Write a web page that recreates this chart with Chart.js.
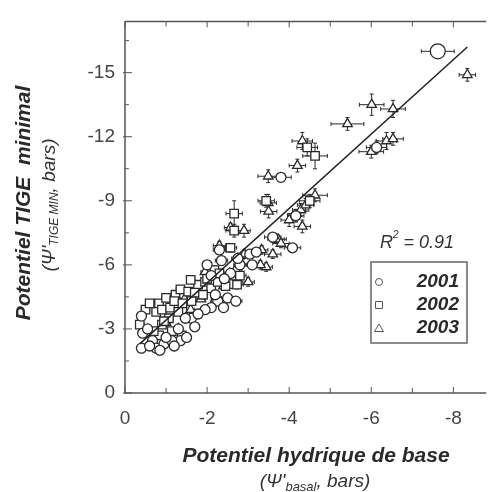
<!DOCTYPE html>
<html>
<head>
<meta charset="utf-8">
<script src="https://cdn.jsdelivr.net/npm/chart.js@4.4.0/dist/chart.umd.min.js"></script>
<style>
  html, body { margin: 0; padding: 0; background: #fff; }
</style>
</head>
<body>
<canvas id="chart-1" width="495" height="492"></canvas>
<script>
// Ticks
const xTicks = [0, -2, -4, -6, -8];
const yTicks = [0, -3, -6, -9, -12, -15];

// 2001 (circles)
const x2001 = [-7.62, -3.8, -0.40, -0.40, -0.67, -0.76, -0.95, -1.35, -1.14, -2.50, -2.26, -1.62, -2.10, -2.57, -2.30, -3.04, -3.20, -2.80, -3.10, -4.08, -1.00, -0.43, -1.30, -1.95, -3.60, -4.16, -6.13, -2.00, -2.42, -1.78,
  -0.55, -0.60, -0.85, -1.20, -1.50, -1.70, -2.20, -2.40, -2.70, -2.10, -2.35, -2.75, -1.47];
const y2001 = [-16.0, -10.1, -2.1, -3.6, -2.45, -2.1, -2.3, -2.45, -2.45, -4.45, -4.3, -3.5, -4.0, -5.6, -6.7, -6.5, -6.6, -6.0, -6.0, -6.8, -2.6, -2.8, -3.0, -3.9, -7.3, -8.3, -11.5, -6.0, -5.35, -3.7,
  -3.0, -2.2, -2.0, -2.2, -2.6, -3.1, -4.6, -4.0, -4.3, -5.5, -6.2, -6.3, -3.5];
const xe2001 = [0.4, 0.25, 0.1, 0.1, 0.1, 0.1, 0.1, 0.1, 0.1, 0.15, 0.1, 0.1, 0.1, 0.15, 0.15, 0.15, 0.15, 0.15, 0.15, 0.2, 0.1, 0.1, 0.1, 0.1, 0.2, 0.2, 0.25, 0.1, 0.15, 0.1,
  0.1, 0.1, 0.1, 0.1, 0.1, 0.1, 0.1, 0.1, 0.15, 0.1, 0.15, 0.15, 0.1];
const ye2001 = [0.2, 0.2, 0.1, 0.1, 0.1, 0.1, 0.1, 0.1, 0.1, 0.2, 0.1, 0.1, 0.1, 0.2, 0.2, 0.2, 0.2, 0.2, 0.2, 0.2, 0.1, 0.1, 0.1, 0.1, 0.2, 0.3, 0.3, 0.1, 0.2, 0.1,
  0.1, 0.1, 0.1, 0.1, 0.1, 0.1, 0.1, 0.1, 0.2, 0.1, 0.2, 0.2, 0.1];

// 2002 (squares)
const x2002 = [-4.63, -0.83, -1.00, -0.76, -1.23, -1.35, -1.54, -1.78, -1.95, -2.66, -2.66, -2.57, -0.90, -1.07, -1.62, -2.73, -2.10, -0.36, -0.83, -1.38, -2.26, -2.18, -4.44, -3.44, -4.50, -2.57, -1.14,
  -0.50, -0.60, -0.90, -1.10, -1.20, -1.40, -1.70, -1.90, -2.00, -2.30, -2.45, -2.80, -1.30, -0.95, -0.70, -1.60];
const y2002 = [-11.1, -4.2, -4.45, -3.8, -4.6, -4.85, -4.75, -5.07, -5.2, -8.4, -7.6, -5.1, -3.2, -3.5, -4.3, -5.07, -4.9, -3.2, -2.7, -2.7, -5.2, -5.75, -11.5, -9.0, -9.0, -6.8, -2.9,
  -3.9, -4.2, -3.9, -4.0, -4.3, -4.2, -4.7, -4.6, -5.35, -5.6, -5.0, -5.5, -3.8, -3.36, -2.9, -5.3];
const xe2002 = [0.3, 0.1, 0.1, 0.1, 0.1, 0.1, 0.1, 0.1, 0.1, 0.2, 0.2, 0.15, 0.1, 0.1, 0.1, 0.15, 0.1, 0.1, 0.1, 0.1, 0.1, 0.1, 0.25, 0.2, 0.25, 0.15, 0.1,
  0.1, 0.1, 0.1, 0.1, 0.1, 0.1, 0.1, 0.1, 0.1, 0.1, 0.1, 0.15, 0.1, 0.1, 0.1, 0.1];
const ye2002 = [0.6, 0.1, 0.1, 0.1, 0.1, 0.1, 0.1, 0.1, 0.1, 0.6, 0.3, 0.2, 0.1, 0.1, 0.1, 0.2, 0.1, 0.1, 0.1, 0.1, 0.1, 0.2, 0.4, 0.3, 0.3, 0.2, 0.1,
  0.1, 0.1, 0.1, 0.1, 0.1, 0.1, 0.1, 0.1, 0.1, 0.2, 0.1, 0.2, 0.1, 0.1, 0.1, 0.1];

// 2003 (triangles)
const x2003 = [-8.34, -6.01, -6.53, -5.42, -6.37, -6.53, -6.00, -4.32, -4.20, -3.49, -3.49, -3.50, -4.28, -4.40, -4.63, -4.00, -4.32, -3.73, -2.90, -3.33, -3.68, -3.44, -2.30, -1.95, -1.30, -1.85, -2.57,
  -1.00, -1.60, -2.20, -2.70, -2.90, -3.00, -3.30, -3.60, -3.80, -1.45, -2.40];
const y2003 = [-14.9, -13.5, -13.3, -12.6, -11.8, -11.9, -11.3, -11.8, -10.65, -10.15, -8.9, -8.5, -8.57, -8.8, -9.26, -8.1, -7.8, -7.2, -7.6, -6.7, -7.2, -5.9, -6.9, -5.67, -3.0, -4.4, -7.75,
  -3.3, -3.9, -4.4, -5.8, -6.5, -5.2, -6.0, -6.5, -7.0, -4.4, -5.0];
const xe2003 = [0.2, 0.3, 0.3, 0.4, 0.25, 0.25, 0.3, 0.25, 0.2, 0.25, 0.2, 0.2, 0.2, 0.2, 0.3, 0.2, 0.2, 0.2, 0.15, 0.15, 0.2, 0.15, 0.15, 0.1, 0.1, 0.1, 0.15,
  0.1, 0.1, 0.1, 0.15, 0.15, 0.15, 0.15, 0.2, 0.2, 0.1, 0.1];
const ye2003 = [0.3, 0.5, 0.4, 0.3, 0.4, 0.3, 0.3, 0.4, 0.3, 0.3, 0.4, 0.3, 0.3, 0.3, 0.3, 0.3, 0.3, 0.2, 0.3, 0.2, 0.2, 0.2, 0.2, 0.1, 0.1, 0.1, 0.2,
  0.1, 0.1, 0.1, 0.2, 0.2, 0.2, 0.2, 0.2, 0.2, 0.1, 0.1];

// regression line ends
const fitX = [-0.36, -8.34];
const fitY = [-2.3, -16.2];
const r2 = "0.91";

const toPoints = (xs, ys) => xs.map((v, i) => ({ x: v, y: ys[i] }));

const INK = "#2a2a2a";
const FONT = '"Liberation Sans", Arial, sans-serif';

// draws a run of text pieces [text, font, dy] centred on (cx, cy)
let drawRuns = (ctx, runs, cx, cy) => {
  let widths = runs.map((r) => {
    ctx.font = r[1];
    return ctx.measureText(r[0]).width;
  });
  let total = widths.reduce((a, b) => a + b, 0);
  let pos = cx - total / 2;
  runs.forEach((r, i) => {
    ctx.font = r[1];
    ctx.fillText(r[0], pos, cy + (r[2] || 0));
    pos += widths[i];
  });
};

const errorBars = {
  id: "errorBars",
  beforeDatasetsDraw(chart) {
    const { ctx, scales: { x, y } } = chart;
    ctx.save();
    ctx.strokeStyle = INK;
    ctx.lineWidth = 1;
    chart.data.datasets.forEach((ds) => {
      if (!ds.xErr) return;
      ds.data.forEach((p, i) => {
        let px = x.getPixelForValue(p.x);
        let py = y.getPixelForValue(p.y);
        let x1 = x.getPixelForValue(p.x - ds.xErr[i]);
        let x2 = x.getPixelForValue(p.x + ds.xErr[i]);
        let y1 = y.getPixelForValue(p.y - ds.yErr[i]);
        let y2 = y.getPixelForValue(p.y + ds.yErr[i]);
        ctx.beginPath();
        ctx.moveTo(x1, py); ctx.lineTo(x2, py);
        ctx.moveTo(x1, py - 2); ctx.lineTo(x1, py + 2);
        ctx.moveTo(x2, py - 2); ctx.lineTo(x2, py + 2);
        ctx.moveTo(px, y1); ctx.lineTo(px, y2);
        ctx.moveTo(px - 2, y1); ctx.lineTo(px + 2, y1);
        ctx.moveTo(px - 2, y2); ctx.lineTo(px + 2, y2);
        ctx.stroke();
      });
    });
    ctx.restore();
  },
};

const frameAndText = {
  id: "frameAndText",
  afterDraw(chart) {
    const { ctx, chartArea: a, scales: { x, y } } = chart;
    ctx.save();
    ctx.strokeStyle = "#555";
    ctx.lineWidth = 1.5;
    ctx.beginPath();
    ctx.moveTo(a.left, a.top); ctx.lineTo(a.right, a.top);
    ctx.moveTo(a.left, a.top); ctx.lineTo(a.left, a.bottom);
    ctx.lineTo(a.right, a.bottom);
    ctx.stroke();

    // tick marks, pointing inward
    ctx.lineWidth = 1;
    ctx.beginPath();
    for (let v = 0; v >= -8.8; v -= 1) {
      let px = x.getPixelForValue(v);
      let len = v % 2 === 0 ? 6 : 5;
      ctx.moveTo(px, a.bottom); ctx.lineTo(px, a.bottom - len);
      ctx.moveTo(px, a.top); ctx.lineTo(px, a.top + len);
    }
    for (let v = 0; v >= -17.4; v -= 1.5) {
      let py = y.getPixelForValue(v);
      let major = Math.abs(v % 3) < 0.01;
      ctx.moveTo(a.left - (major ? 2 : 0), py);
      ctx.lineTo(a.left + (major ? 7 : 4), py);
    }
    ctx.stroke();

    ctx.fillStyle = INK;
    ctx.textBaseline = "middle";
    ctx.textAlign = "left";

    // x axis titles
    drawRuns(ctx, [["Potentiel hydrique de base", "italic bold 21px " + FONT]], 316, 456);
    ctx.fillStyle = "#333";
    drawRuns(ctx, [
      ["(\u03A8'", "italic 19px " + FONT],
      ["basal", "italic 13px " + FONT, 5],
      [", bars)", "italic 19px " + FONT],
    ], 315, 482);

    // y axis titles
    ctx.save();
    ctx.translate(24, 203);
    ctx.rotate(-Math.PI / 2);
    ctx.fillStyle = INK;
    drawRuns(ctx, [["Potentiel TIGE  minimal", "italic bold 21px " + FONT]], 0, 0);
    ctx.restore();
    ctx.save();
    ctx.translate(50, 205);
    ctx.rotate(-Math.PI / 2);
    ctx.fillStyle = "#333";
    drawRuns(ctx, [
      ["(\u03A8'", "italic 19px " + FONT],
      ["TIGE MIN", "italic 12px " + FONT, 5],
      [", bars)", "italic 19px " + FONT],
    ], 0, 0);
    ctx.restore();

    // R²
    ctx.fillStyle = "#333";
    drawRuns(ctx, [
      ["R", "italic 18px " + FONT],
      ["2", "italic 10px " + FONT, -8],
      [" = " + r2, "italic 18px " + FONT],
    ], 417, 243);

    // legend box
    ctx.strokeStyle = "#666";
    ctx.lineWidth = 1.5;
    ctx.strokeRect(371, 262, 96, 81);
    const entries = chart.data.datasets.filter((d) => d.xErr);
    entries.forEach((d, i) => {
      let cy = 282 + i * 23;
      ctx.strokeStyle = "#555";
      ctx.lineWidth = 1;
      ctx.beginPath();
      if (d.pointStyle === "circle") {
        ctx.arc(379, cy, 3.5, 0, Math.PI * 2);
      } else if (d.pointStyle === "rect") {
        ctx.rect(375.5, cy - 3.5, 7, 7);
      } else {
        ctx.moveTo(379, cy - 4); ctx.lineTo(383.5, cy + 3.5); ctx.lineTo(374.5, cy + 3.5); ctx.closePath();
      }
      ctx.stroke();
      ctx.fillStyle = INK;
      ctx.textAlign = "right";
      ctx.font = "italic bold 19px " + FONT;
      ctx.fillText(d.label, 459, cy);
    });
    ctx.restore();
  },
};

const ctx1 = document.getElementById("chart-1");
const myChart1 = new Chart(ctx1, {
  type: "scatter",
  data: {
    datasets: [
      {
        label: "2001",
        data: toPoints(x2001, y2001),
        xErr: xe2001,
        yErr: ye2001,
        pointStyle: "circle",
        pointRadius: (c) => (c.dataIndex === 0 ? 7.5 : 5),
        backgroundColor: "#fff",
        borderColor: INK,
        borderWidth: 1.3,
      },
      {
        label: "2002",
        data: toPoints(x2002, y2002),
        xErr: xe2002,
        yErr: ye2002,
        pointStyle: "rect",
        pointRadius: 6,
        backgroundColor: "#fff",
        borderColor: INK,
        borderWidth: 1.3,
      },
      {
        label: "2003",
        data: toPoints(x2003, y2003),
        xErr: xe2003,
        yErr: ye2003,
        pointStyle: "triangle",
        pointRadius: 5.5,
        backgroundColor: "#fff",
        borderColor: INK,
        borderWidth: 1.3,
      },
      {
        type: "line",
        label: "fit",
        data: toPoints(fitX, fitY),
        borderColor: "#222",
        borderWidth: 1.5,
        pointRadius: 0,
        fill: false,
        order: -1,
      },
    ],
  },
  options: {
    responsive: false,
    animation: false,
    layout: { padding: { top: 15, right: 0, left: 0, bottom: 0 } },
    plugins: {
      legend: { display: false },
      tooltip: { enabled: false },
    },
    scales: {
      x: {
        type: "linear",
        reverse: true,
        min: -8.8,
        max: 0,
        afterFit: (s) => { s.height = 99; },
        afterBuildTicks: (s) => { s.ticks = xTicks.map((v) => ({ value: v })); },
        grid: { display: false, drawTicks: false },
        border: { display: false },
        ticks: {
          padding: 14,
          color: "#444",
          font: { size: 19, family: FONT },
          callback: (v) => String(v),
        },
      },
      y: {
        type: "linear",
        reverse: true,
        min: -17.4,
        max: 0,
        afterFit: (s) => { s.width = 125; },
        afterBuildTicks: (s) => { s.ticks = yTicks.map((v) => ({ value: v })); },
        grid: { display: false, drawTicks: false },
        border: { display: false },
        ticks: {
          padding: 10,
          color: "#444",
          font: { size: 19, family: FONT },
          callback: (v) => String(v),
        },
      },
    },
  },
  plugins: [errorBars, frameAndText],
});
</script>
</body>
</html>
